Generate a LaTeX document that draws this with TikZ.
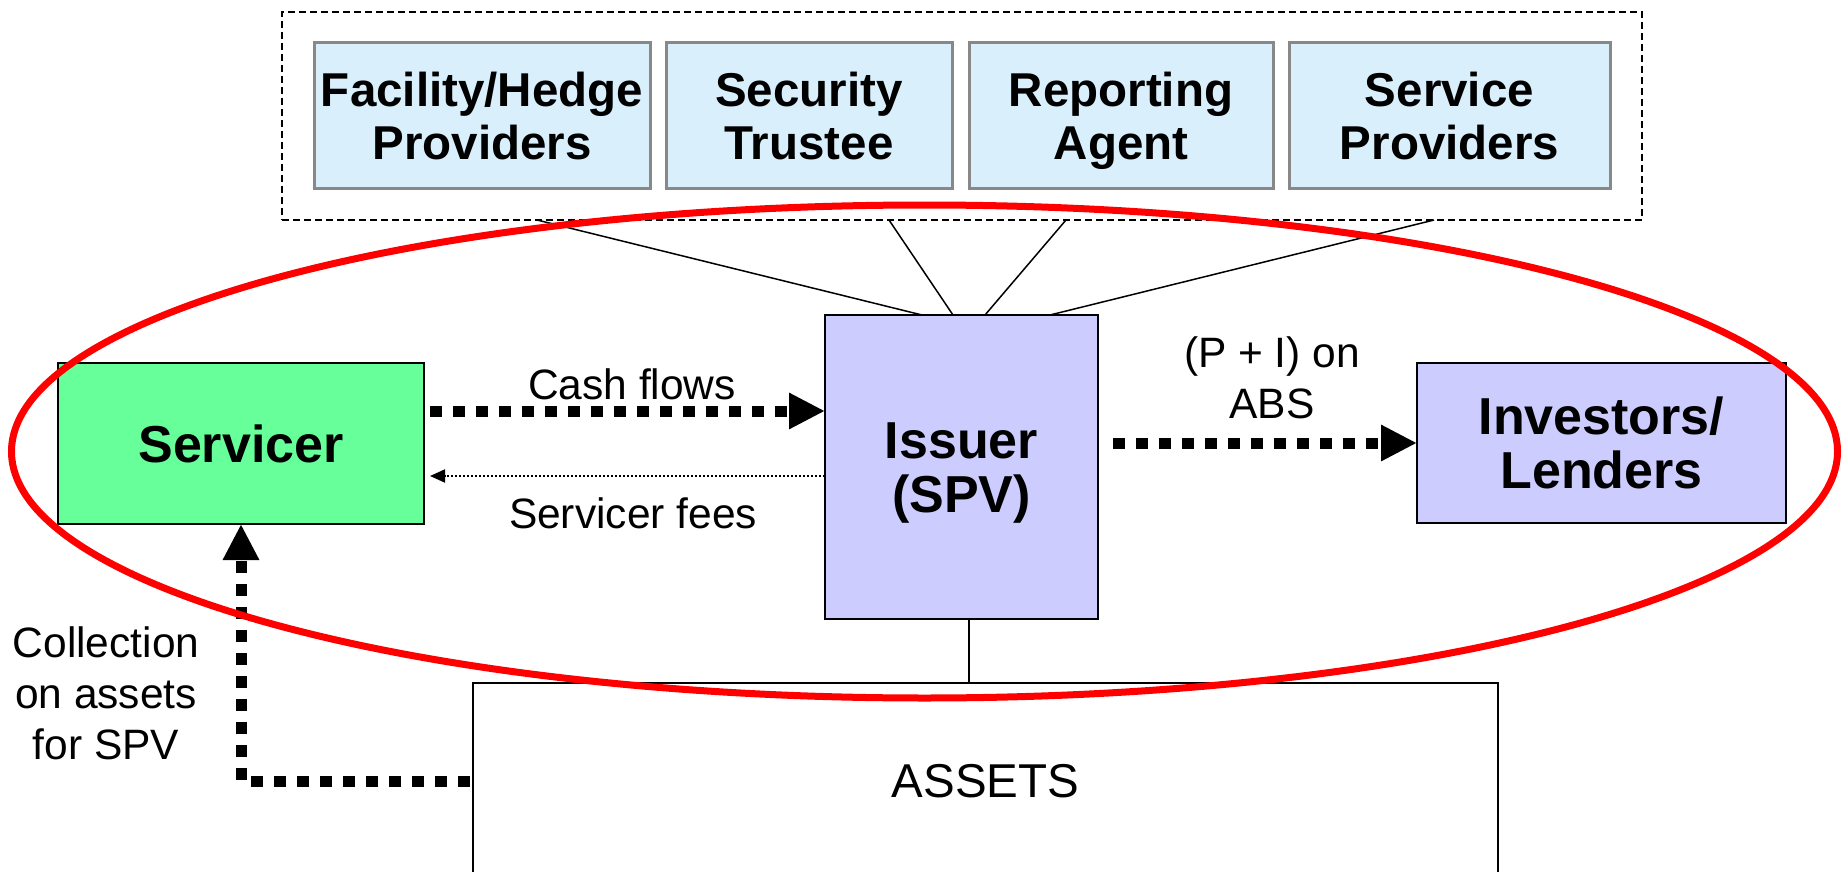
\documentclass[tikz,border=0pt]{standalone}
\usepackage{fontspec}
\setmainfont{Liberation Sans}
\usetikzlibrary{arrows.meta,calc}
\definecolor{partyblue}{RGB}{217,239,252}
\definecolor{partygray}{RGB}{136,136,136}
\definecolor{servgreen}{RGB}{102,255,153}
\definecolor{spvblue}{RGB}{204,204,255}
% one text line with a fixed height and depth
\newcommand{\txtline}[1]{\rule[-0.134em]{0pt}{0.984em}\smash{#1}}
\begin{document}
\begin{tikzpicture}[x=1pt,y=-1pt,
  party/.style={draw=partygray, line width=3, fill=partyblue, minimum height=145,
    inner sep=0, outer sep=0, align=center,
    font=\bfseries\fontsize{47.5}{53}\selectfont},
  mainbox/.style={draw=black, line width=2.5, inner sep=0, outer sep=0, align=center,
    font=\bfseries\fontsize{52}{54}\selectfont},
  lbl/.style={align=center, inner sep=0, font=\fontsize{42.5}{51}\selectfont},
  flow/.style={line width=11, dash pattern=on 12pt off 11pt,
    -{Triangle[length=36pt,width=34pt]}},
  fee/.style={line width=2, dash pattern=on 2pt off 2pt,
    -{Triangle[length=15pt,width=13pt]}},
  link/.style={line width=1.5}]
\useasboundingbox (0,0) rectangle (1842,872);
\clip (0,0) rectangle (1842,872);

% group of supporting parties
\node[draw, line width=2, dash pattern=on 7pt off 4pt, minimum width=1360,
  minimum height=208, inner sep=0, outer sep=0] (grp) at (962,116) {};
\node[party, minimum width=336] (fac) at (482,115.5) {\txtline{Facility/Hedge}\\\txtline{Providers}};
\node[party, minimum width=286] (sec) at (809,115.5) {\txtline{Security}\\\txtline{Trustee}};
\node[party, minimum width=304] (rep) at (1121,115.5) {\txtline{Reporting}\\\txtline{Agent}};
\node[party, minimum width=321] (svp) at (1449.5,115.5) {\txtline{Service}\\\txtline{Providers}};

% main parties
\node[mainbox, fill=servgreen, minimum width=366, minimum height=161] (serv) at (241,443.5) {Servicer};
\node[mainbox, fill=spvblue, minimum width=273, minimum height=304] (iss) at (961.5,467) {\txtline{Issuer}\\\txtline{(SPV)}};
\node[mainbox, fill=spvblue, minimum width=369, minimum height=160] (inv) at (1601.5,443) {\txtline{Investors/}\\\txtline{Lenders}};
\node[draw=black, line width=2.5, fill=white, inner sep=0, outer sep=0,
  minimum width=1025, minimum height=196, font=\fontsize{47.5}{53}\selectfont] (assets) at (985.5,781) {ASSETS};

% links from the group to the issuer
\draw[link] ([xshift=-425]grp.south) -- ([xshift=-39.5]iss.north);
\draw[link] ([xshift=-73]grp.south) -- ([xshift=-8.5]iss.north);
\draw[link] ([xshift=104]grp.south) -- ([xshift=23.5]iss.north);
\draw[link] ([xshift=472]grp.south) -- ([xshift=88.5]iss.north);
\draw[link] ([xshift=7.5]iss.south) -- ([xshift=7.5]iss.south |- assets.north);

% flows
\draw[flow, shorten <=6pt] ([yshift=32.5]serv.east) -- ([yshift=32.5]serv.east -| iss.west);
\draw[fee, shorten >=6pt] ([yshift=-32.5]serv.east -| iss.west) -- ([yshift=-32.5]serv.east);
\draw[flow, shorten <=15pt] (inv.west -| iss.east) -- (inv.west);
\draw[flow, shorten <=3pt] (assets.west) -| (serv.south);

% labels
\node[lbl] (lcash) at (632,384) {Cash flows};
\node[lbl] (lfees) at (633,513) {Servicer fees};
\node[lbl] (labs) at (1272,378) {\txtline{(P + I) on}\\\txtline{ABS}};
\node[lbl] (lcoll) at (106,693) {\txtline{Collection}\\\txtline{on assets}\\\txtline{for SPV}};

% highlight
\draw[red, line width=7] (924.5,451.5) ellipse [x radius=913, y radius=246.5];
\end{tikzpicture}
\end{document}
